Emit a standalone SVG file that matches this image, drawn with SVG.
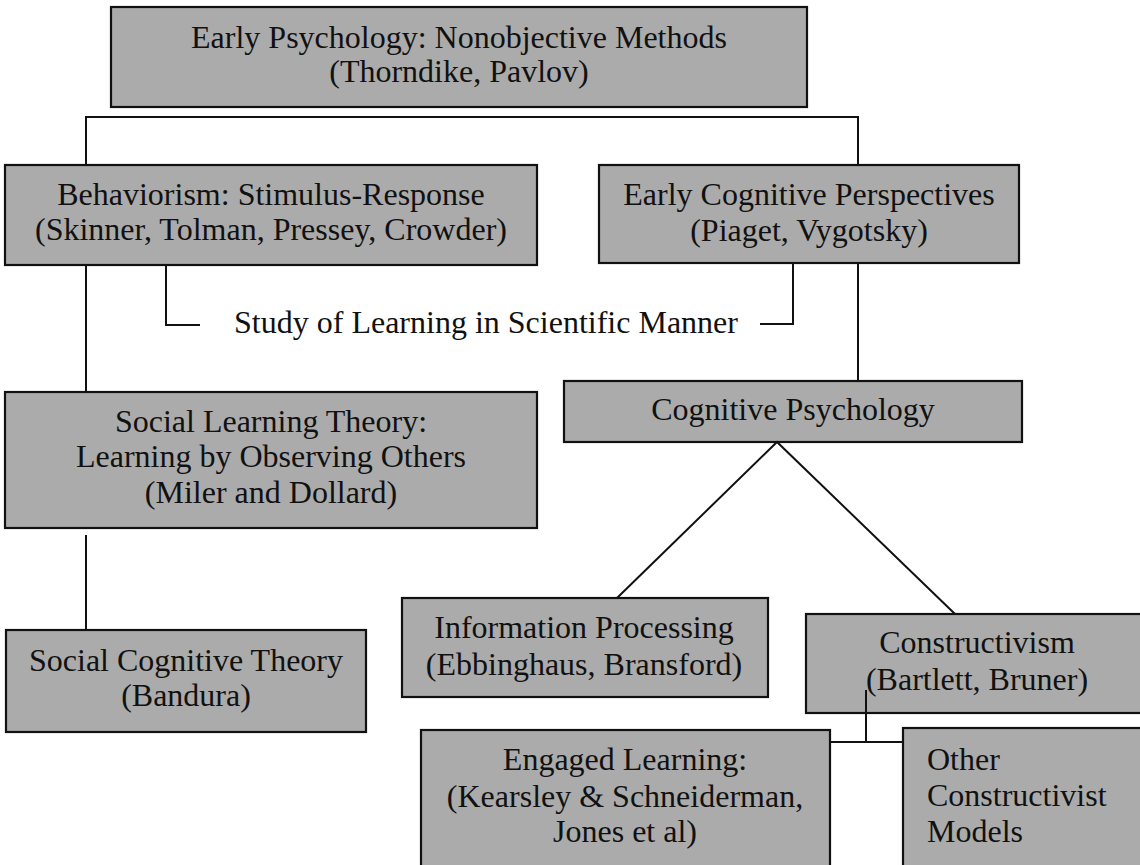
<svg xmlns="http://www.w3.org/2000/svg" width="1140" height="865" viewBox="0 0 1140 865">
<style>
.box{fill:#ababab;stroke:#111;stroke-width:2.2}
text{font-family:"Liberation Serif","Times New Roman",serif;font-size:32px;fill:#111}
.c{text-anchor:middle}
.ln{fill:none;stroke:#111;stroke-width:2}
</style>
<rect width="1140" height="865" fill="#fff"/>
<g id="early-psychology">
<rect class="box" x="111" y="7" width="696" height="100"/>
<text class="c" x="459" y="48">Early Psychology: Nonobjective Methods</text>
<text class="c" x="459" y="82">(Thorndike, Pavlov)</text>
</g>
<g id="behaviorism">
<rect class="box" x="5" y="165" width="532" height="100"/>
<text class="c" x="271" y="205">Behaviorism: Stimulus-Response</text>
<text class="c" x="271" y="240">(Skinner, Tolman, Pressey, Crowder)</text>
</g>
<g id="early-cognitive">
<rect class="box" x="599" y="165" width="420" height="98"/>
<text class="c" x="809" y="205">Early Cognitive Perspectives</text>
<text class="c" x="809" y="241">(Piaget, Vygotsky)</text>
</g>
<g id="social-learning">
<rect class="box" x="5" y="392" width="532" height="136"/>
<text class="c" x="271" y="432">Social Learning Theory:</text>
<text class="c" x="271" y="467">Learning by Observing Others</text>
<text class="c" x="271" y="503">(Miler and Dollard)</text>
</g>
<g id="cognitive-psychology">
<rect class="box" x="564" y="381" width="458" height="61"/>
<text class="c" x="793" y="420">Cognitive Psychology</text>
</g>
<g id="social-cognitive">
<rect class="box" x="6" y="630" width="360" height="102"/>
<text class="c" x="186" y="671">Social Cognitive Theory</text>
<text class="c" x="186" y="706">(Bandura)</text>
</g>
<g id="information-processing">
<rect class="box" x="402" y="598" width="366" height="99"/>
<text class="c" x="584" y="638">Information Processing</text>
<text class="c" x="584" y="675">(Ebbinghaus, Bransford)</text>
</g>
<g id="constructivism">
<rect class="box" x="806" y="614" width="345" height="99"/>
<text class="c" x="977" y="653">Constructivism</text>
<text class="c" x="977" y="690">(Bartlett, Bruner)</text>
</g>
<g id="engaged-learning">
<rect class="box" x="421" y="730" width="409" height="150"/>
<text class="c" x="625" y="770">Engaged Learning:</text>
<text class="c" x="625" y="807">(Kearsley &amp; Schneiderman,</text>
<text class="c" x="625" y="842">Jones et al)</text>
</g>
<g id="other-constructivist">
<rect class="box" x="903" y="728" width="250" height="150"/>
<text x="927" y="770">Other</text>
<text x="927" y="806">Constructivist</text>
<text x="927" y="842">Models</text>
</g>
<g id="connectors">
<polyline class="ln" points="86,165 86,117 858,117 858,165"/>
<line class="ln" x1="86" y1="265" x2="86" y2="392"/>
<line class="ln" x1="86" y1="535" x2="86" y2="630"/>
<polyline class="ln" points="166,265 166,325 200,325"/>
<polyline class="ln" points="760,324 793,324 793,263"/>
<text class="c" x="486" y="333">Study of Learning in Scientific Manner</text>
<line class="ln" x1="858" y1="263" x2="858" y2="381"/>
<polyline class="ln" points="617,598 777,442 955,614"/>
<line class="ln" x1="866" y1="690" x2="866" y2="742"/>
<line class="ln" x1="830" y1="742" x2="903" y2="742"/>
</g>
</svg>
